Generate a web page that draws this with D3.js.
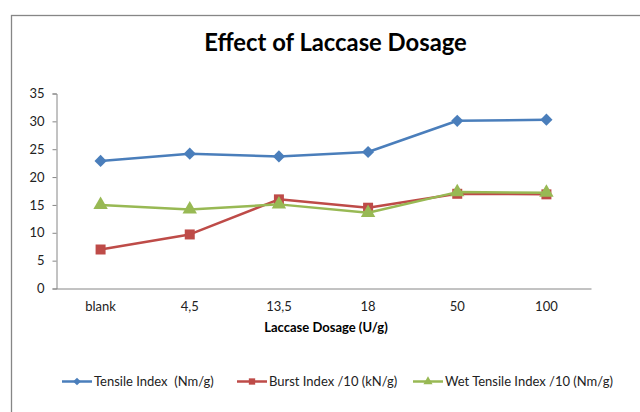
<!DOCTYPE html>
<html><head><meta charset="utf-8">
<script src="https://cdn.jsdelivr.net/npm/d3@7"></script>
<style>html,body{margin:0;padding:0;background:#fff;}svg{display:block;}</style>
</head><body>
<script>
const categories = ["blank", "4,5", "13,5", "18", "50", "100"];
const tensile = [22.9, 24.2, 23.7, 24.5, 30.1, 30.3];
const burst = [7.0, 9.7, 16.0, 14.5, 17.0, 16.9];
const wetTensile = [15.0, 14.2, 15.1, 13.6, 17.3, 17.2];
const yTicks = [0, 5, 10, 15, 20, 25, 30, 35];
const seriesNames = ["Tensile Index  (Nm/g)", "Burst Index /10 (kN/g)", "Wet Tensile Index /10 (Nm/g)"];
const title = "Effect of Laccase Dosage";
const xTitle = "Laccase Dosage (U/g)";

const W = 640, H = 412;
const FONT = "Lato, 'Open Sans', sans-serif";
const svg = d3.select("body").append("svg").attr("width", W).attr("height", H);

// outer chart border
svg.append("rect").attr("x", 11.5).attr("y", 15.5).attr("width", 700).attr("height", 500)
  .attr("fill", "#fff").attr("stroke", "#868686").attr("stroke-width", 1.3);

const x = d3.scaleBand().domain(categories).range([56, 591]);
const y = d3.scaleLinear().domain([0, 35]).range([288.5, 93.5]);

// y axis
const yAxis = d3.axisLeft(y).tickValues(yTicks).tickSize(4).tickPadding(8);
const gy = svg.append("g").attr("transform", "translate(56.5,0)").call(yAxis);
gy.select(".domain").attr("stroke", "#868686");
gy.selectAll(".tick line").attr("stroke", "#868686");
gy.selectAll("text").attr("font-family", FONT).attr("font-size", 13).attr("fill", "#222");

// x axis
const xAxis = d3.axisBottom(x).tickSize(0).tickPadding(13);
const gx = svg.append("g").attr("transform", "translate(0,288.5)").call(xAxis);
gx.select(".domain").attr("stroke", "#868686");
gx.selectAll("text").attr("font-family", FONT).attr("font-size", 13).attr("fill", "#222");

// title
svg.append("text").attr("x", 335.5).attr("y", 51).attr("text-anchor", "middle")
  .attr("font-family", FONT).attr("font-weight", "bold").attr("font-size", 23.8)
  .attr("fill", "#000").text(title);

svg.append("text").attr("x", 326).attr("y", 332).attr("text-anchor", "middle")
  .attr("font-family", FONT).attr("font-weight", "bold").attr("font-size", 13)
  .attr("fill", "#000").text(xTitle);

const series = [
  {name: seriesNames[0], values: tensile, color: "#4a7ebb", marker: d3.symbolSquare, size: 74, rot: 45},
  {name: seriesNames[1], values: burst, color: "#be4b48", marker: d3.symbolSquare, size: 100, rot: 0},
  {name: seriesNames[2], values: wetTensile, color: "#98b954", marker: d3.symbolTriangle, size: 90, rot: 0}
];

const line = d3.line().x((d, i) => x(categories[i]) + x.bandwidth() / 2).y(d => y(d));

series.forEach(s => {
  svg.append("path").datum(s.values).attr("d", line).attr("fill", "none")
    .attr("stroke", s.color).attr("stroke-width", 2.5).attr("stroke-linejoin", "round");
  svg.append("g").selectAll("path").data(s.values).join("path")
    .attr("d", d3.symbol().type(s.marker).size(s.size))
    .attr("transform", (d, i) => `translate(${x(categories[i]) + x.bandwidth() / 2},${y(d)}) rotate(${s.rot})`)
    .attr("fill", s.color);
});

// legend
const legendX = [62, 237, 413];
series.forEach((s, i) => {
  const g = svg.append("g").attr("transform", `translate(${legendX[i]},381.5)`);
  g.append("line").attr("x1", 0).attr("x2", 30).attr("stroke", s.color).attr("stroke-width", 2.5);
  g.append("path").attr("d", d3.symbol().type(s.marker).size(s.size * 0.4))
    .attr("transform", `translate(15,0) rotate(${s.rot})`).attr("fill", s.color);
  g.append("text").attr("x", 32).attr("y", 0).attr("dy", "0.35em")
    .attr("font-family", FONT).attr("font-size", 13).attr("fill", "#222")
    .style("white-space", "pre").text(s.name);
});
</script>
</body></html>
